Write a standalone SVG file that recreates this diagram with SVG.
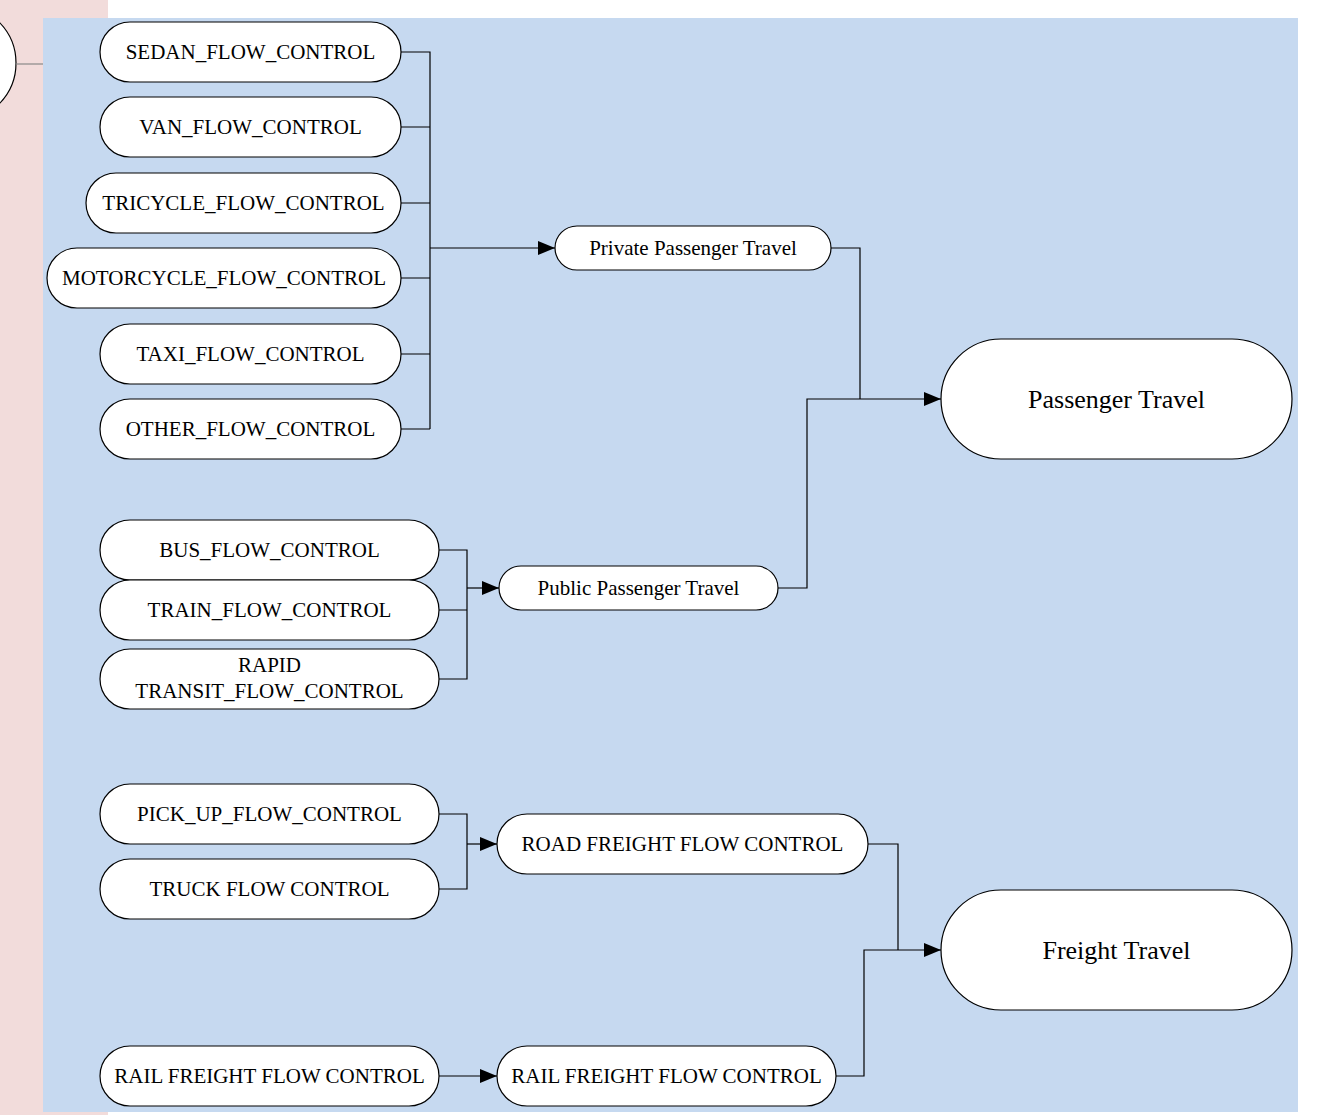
<svg xmlns="http://www.w3.org/2000/svg" width="1335" height="1115" viewBox="0 0 1335 1115">
<defs>
<style>
.n{fill:#fff;stroke:#000;stroke-width:1.2}
.t{font-family:"Liberation Serif","Times New Roman",serif;font-size:21px;fill:#000;text-anchor:middle;dominant-baseline:central}
.big{font-size:26px}
.c{fill:none;stroke:#000;stroke-width:1.2}
</style>
<marker id="ah" viewBox="0 0 17 14" refX="17" refY="7" markerWidth="17" markerHeight="14" markerUnits="userSpaceOnUse" orient="auto">
<path d="M0,0 L17,7 L0,14 Z" fill="#000"/>
</marker>
</defs>
<rect x="0" y="0" width="108" height="1115" fill="#F2DCDB"/>
<rect x="43" y="18" width="1255" height="1094" fill="#C6D9F0"/>
<g id="left-circle">
<circle cx="-42" cy="63" r="58" fill="#fff" stroke="#000" stroke-width="1.2"/>
<line x1="16" y1="64" x2="43" y2="64" stroke="#888" stroke-width="1.2"/>
</g>
<g id="connectors">
<path class="c" d="M401,52 H430 V429 M401,127 H430 M401,203 H430 M401,278 H430 M401,354 H430 M401,429 H430"/>
<path class="c" d="M430,248 H555" marker-end="url(#ah)"/>
<path class="c" d="M831,248 H860 V399"/>
<path class="c" d="M778,588 H807 V399 H941" marker-end="url(#ah)"/>
<path class="c" d="M439,550 H467 V679 H439 M439,610 H467"/>
<path class="c" d="M467,588 H499" marker-end="url(#ah)"/>
<path class="c" d="M439,814 H467 V889 H439"/>
<path class="c" d="M467,844 H497" marker-end="url(#ah)"/>
<path class="c" d="M868,844 H898 V950"/>
<path class="c" d="M836,1076 H864 V950 H941" marker-end="url(#ah)"/>
<path class="c" d="M439,1076 H497" marker-end="url(#ah)"/>
</g>
<g id="sedan"><rect class="n" x="100" y="22" width="301" height="60" rx="30"/><text class="t" x="250.5" y="52">SEDAN_FLOW_CONTROL</text></g>
<g id="van"><rect class="n" x="100" y="97" width="301" height="60" rx="30"/><text class="t" x="250.5" y="127">VAN_FLOW_CONTROL</text></g>
<g id="tricycle"><rect class="n" x="86" y="173" width="315" height="60" rx="30"/><text class="t" x="243.5" y="203">TRICYCLE_FLOW_CONTROL</text></g>
<g id="motorcycle"><rect class="n" x="47" y="248" width="354" height="60" rx="30"/><text class="t" x="224" y="278">MOTORCYCLE_FLOW_CONTROL</text></g>
<g id="taxi"><rect class="n" x="100" y="324" width="301" height="60" rx="30"/><text class="t" x="250.5" y="354">TAXI_FLOW_CONTROL</text></g>
<g id="other"><rect class="n" x="100" y="399" width="301" height="60" rx="30"/><text class="t" x="250.5" y="429">OTHER_FLOW_CONTROL</text></g>
<g id="private"><rect class="n" x="555" y="226" width="276" height="44" rx="22"/><text class="t" x="693" y="248">Private Passenger Travel</text></g>
<g id="passenger"><rect class="n" x="941" y="339" width="351" height="120" rx="60"/><text class="t big" x="1116.5" y="399">Passenger Travel</text></g>
<g id="bus"><rect class="n" x="100" y="520" width="339" height="60" rx="30"/><text class="t" x="269.5" y="550">BUS_FLOW_CONTROL</text></g>
<g id="train"><rect class="n" x="100" y="580" width="339" height="60" rx="30"/><text class="t" x="269.5" y="610">TRAIN_FLOW_CONTROL</text></g>
<g id="rapid"><rect class="n" x="100" y="649" width="339" height="60" rx="30"/><text class="t" x="269.5" y="665">RAPID</text><text class="t" x="269.5" y="691">TRANSIT_FLOW_CONTROL</text></g>
<g id="public"><rect class="n" x="499" y="566" width="279" height="44" rx="22"/><text class="t" x="638.5" y="588">Public Passenger Travel</text></g>
<g id="pickup"><rect class="n" x="100" y="784" width="339" height="60" rx="30"/><text class="t" x="269.5" y="814">PICK_UP_FLOW_CONTROL</text></g>
<g id="truck"><rect class="n" x="100" y="859" width="339" height="60" rx="30"/><text class="t" x="269.5" y="889">TRUCK FLOW CONTROL</text></g>
<g id="road"><rect class="n" x="497" y="814" width="371" height="60" rx="30"/><text class="t" x="682.5" y="844">ROAD FREIGHT FLOW CONTROL</text></g>
<g id="freight"><rect class="n" x="941" y="890" width="351" height="120" rx="60"/><text class="t big" x="1116.5" y="950">Freight Travel</text></g>
<g id="rail-left"><rect class="n" x="100" y="1046" width="339" height="60" rx="30"/><text class="t" x="269.5" y="1076">RAIL FREIGHT FLOW CONTROL</text></g>
<g id="rail-right"><rect class="n" x="497" y="1046" width="339" height="60" rx="30"/><text class="t" x="666.5" y="1076">RAIL FREIGHT FLOW CONTROL</text></g>
</svg>
